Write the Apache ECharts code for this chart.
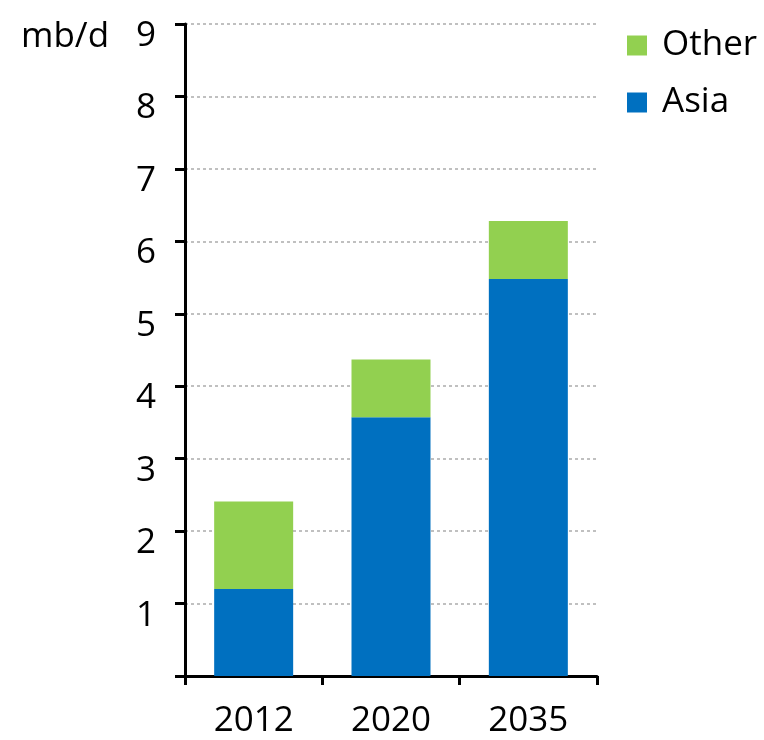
<!DOCTYPE html>
<html><head><meta charset="utf-8">
<script src="https://cdn.jsdelivr.net/npm/echarts@6/dist/echarts.min.js"></script>
<style>html,body{margin:0;padding:0;background:#fff}#c{width:764px;height:740px}</style>
</head><body><div id="c"></div>
<script>
var categories = ['2012', '2020', '2035'];
var asia = [1.2, 3.57, 5.48];
var other = [1.21, 0.8, 0.8];
var unitLabel = 'mb/d';
var FONT = '"Open Sans", "Noto Sans", sans-serif';
var chart = echarts.init(document.getElementById('c'));
chart.setOption({
  animation: false,
  grid: {left: 185, right: 167, top: 24, bottom: 64, containLabel: false},
  legend: {
    orient: 'vertical', left: 627, top: 28, padding: 0, itemWidth: 20, itemHeight: 20, itemGap: 22,
    icon: 'rect',
    data: ['Other', 'Asia'],
    textStyle: {fontFamily: FONT, fontSize: 35, color: '#000', padding: [0, 0, 0, 10]}
  },
  graphic: [{type: 'text', left: 21, top: 20, style: {text: unitLabel, font: '35px ' + FONT, fill: '#000'}}],
  xAxis: {
    type: 'category', data: categories,
    axisLine: {lineStyle: {color: '#000', width: 3}},
    axisTick: {show: true, length: 9, lineStyle: {color: '#000', width: 3}},
    axisLabel: {fontFamily: FONT, fontSize: 35, color: '#000', margin: 28}
  },
  yAxis: {
    type: 'value', min: 0, max: 9, interval: 1,
    axisLine: {show: true, lineStyle: {color: '#000', width: 3}},
    axisTick: {show: true, length: 10, lineStyle: {color: '#000', width: 3}},
    axisLabel: {fontFamily: FONT, fontSize: 35, color: '#000', margin: 29,
      verticalAlign: 'top', lineHeight: 24,
      formatter: function (v) { return v === 0 ? '' : v; }},
    splitLine: {show: true, lineStyle: {color: '#C0C0C0', width: 2, type: [3, 3]}}
  },
  series: [
    {name: 'Asia', type: 'bar', stack: 'a', data: asia, barWidth: 79, itemStyle: {color: '#0070C0'}},
    {name: 'Other', type: 'bar', stack: 'a', data: other, barWidth: 79, itemStyle: {color: '#92D050'}}
  ]
});
</script></body></html>
